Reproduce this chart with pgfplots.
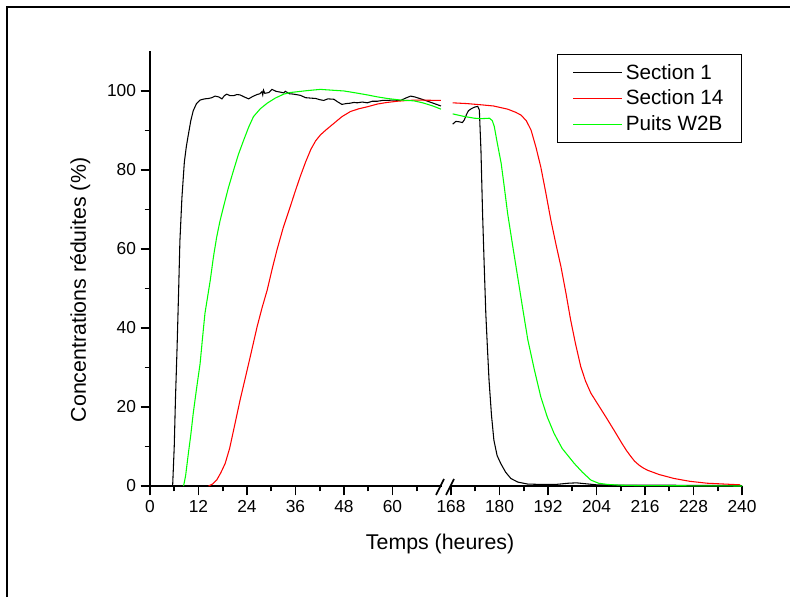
\documentclass[border=0pt]{standalone}
\usepackage{pgfplots}
\pgfplotsset{compat=1.18}
\usepackage{fontspec}
\setmainfont{Liberation Sans}
\begin{document}
\begin{tikzpicture}[x=0.75pt,y=0.75pt]
\path[use as bounding box] (0,0) rectangle (790,597);
\draw[line width=1.6pt] (7,0) -- (7,590) -- (790,590);
\begin{axis}[
  at={(112.5pt,83.25pt)}, anchor=south west,
  scale only axis, width=444pt, height=325.9pt,
  xmin=0, xmax=146.5, ymin=0, ymax=110,
  axis x line=bottom, axis y line=left,
  axis line style={-, line width=1.4pt},
  xtick={0,12,24,36,48,60,74.5,86.5,98.5,110.5,122.5,134.5,146.5},
  xticklabels={0,12,24,36,48,60,168,180,192,204,216,228,240},
  minor xtick={6,18,30,42,54,66,80.5,92.5,104.5,116.5,128.5,140.5},
  ytick={0,20,40,60,80,100}, minor ytick={10,30,50,70,90},
  tick align=outside, major tick length=7pt, minor tick length=4pt,
  every tick/.style={black, line width=1.2pt},
  /pgf/number format/assume math mode=true,
  tick label style={font=\fontsize{13}{15}\selectfont},
  xlabel={Temps (heures)}, ylabel={Concentrations réduites (\%)},
  label style={font=\fontsize{16}{19}\selectfont},
  xlabel style={at={(axis description cs:0.49,-0.134)}, anchor=center},
  ylabel style={at={(axis description cs:-0.118,0.451)}, anchor=center},
  legend style={at={(1,0.995)}, anchor=north east, draw=black, line width=0.75pt,
    font=\fontsize{15.5}{18}\selectfont, inner xsep=11pt, inner ysep=5pt,
    row sep=1.6pt, nodes={inner sep=2.5pt}},
  legend cell align=left,
  legend image code/.code={\draw[#1, line width=0.75pt] (0pt,0pt) -- (36.75pt,0pt);},
  every axis plot/.append style={line width=0.8pt},
]
% Section 1 (left part)
\addplot[black] table {
5.6 0
6.0 10
6.3 22
6.7 35
7.1 50
7.4 62
7.9 73
8.5 82
9.0 86
9.5 89
10.1 92.5
10.7 95
11.5 96.8
12.4 97.7
13.5 98.0
14.5 98.1
15.3 98.3
16.1 98.7
17.0 98.5
17.8 98.0
18.4 98.8
19.0 99.2
19.8 98.8
20.7 98.8
21.5 99.1
22.3 99.0
23.3 98.5
24.4 98.0
25.4 98.6
26.5 99.1
27.2 99.3
27.7 99.8
27.9 99.0
28.1 100.2
28.4 99.4
29.4 99.6
30.2 100.4
31.2 99.9
32.3 99.7
33.1 99.5
33.5 99.9
34.5 99.3
35.5 99.2
37.2 98.9
38.5 98.3
39.7 98.2
41.0 98.1
42.0 97.8
43.0 97.6
44.0 98.0
45.5 97.9
46.5 97.2
47.5 96.6
48.5 96.8
49.5 96.9
50.5 97.1
51.3 97.0
52.5 97.2
53.8 97.0
55.0 97.4
56.3 97.4
57.5 97.6
58.7 97.6
60.0 97.7
62.0 97.6
63.5 98.3
64.5 98.7
65.5 98.5
67.0 98.0
69.0 97.3
72.0 96.2
};
\addlegendentry{Section 1}
% Section 14 (left part)
\addplot[red] table {
14.5 0
15.5 0.5
16.5 1.5
17.5 3.3
18.6 5.7
19.7 9.5
20.7 14.2
21.5 18
22.3 21.8
23.5 27
24.8 32.7
26.5 40.3
27.7 45
29.0 49.6
30.2 54.8
31.4 59.7
33.0 65.5
34.7 70.7
36.0 74.8
37.2 78.4
38.5 82
39.8 85.2
41.0 87.4
42.2 88.9
43.5 90.1
45.5 91.8
47.5 93.5
49.6 94.8
51.7 95.5
53.8 96.0
56.3 96.7
58.7 97.1
61.2 97.4
63.7 97.6
66.0 97.7
72.0 97.6
};
\addlegendentry{Section 14}
% Puits W2B (left part)
\addplot[green] table {
8.3 0
8.8 2.5
9.5 8.3
10.1 13
10.7 18.4
11.5 24.5
12.4 31
13.0 37.5
13.6 43.7
14.9 52
15.7 58
16.5 63
17.3 67
18.2 70.7
19.4 75.5
20.7 80
21.9 84
23.2 87.6
24.4 90.8
25.6 93.5
27.3 95.5
29.0 96.9
31.0 98.2
33.1 99.2
34.7 99.6
36.4 99.8
39.0 100.1
42.2 100.4
45.0 100.2
48.0 100.0
51.0 99.5
53.8 99.0
56.3 98.5
58.7 98.1
62.0 97.7
65.3 97.5
67.5 97.0
70.0 96.2
72.0 95.4
};
\addlegendentry{Puits W2B}
% right part (hours 168-240, shifted onto the broken axis)
\addplot[black, forget plot] table[x expr=\thisrowno{0}-93.5, y index=1] {
168.4 91.6
169.2 92.3
170.0 92.2
170.8 92.0
171.3 92.7
171.8 94.0
172.3 95.0
173.0 95.5
173.8 95.9
174.6 96.1
175.0 95.2
175.4 85
175.8 69
176.2 56
176.6 43.7
177.0 35
177.4 26.8
178.0 18
178.6 11.6
179.4 7.7
180.3 5.7
181.5 3.5
182.8 1.9
184.5 1.0
186.9 0.5
190.0 0.4
194.0 0.4
197.0 0.7
199.0 0.8
201.0 0.6
204.0 0.3
210.0 0.2
220.0 0.2
240.0 0.1
};
\addplot[red, forget plot] table[x expr=\thisrowno{0}-93.5, y index=1] {
168.4 97.0
172.0 96.8
175.4 96.5
178.5 96.2
182.0 95.4
184.0 94.6
185.3 93.9
186.6 92.5
187.8 90.1
189.0 85.8
190.2 80.8
191.4 74.5
192.7 67.3
194.0 61
195.2 55.5
196.4 49
197.6 42
198.8 36
200.1 30.2
201.3 26.5
202.6 23.5
204.2 20.9
206.3 17.5
208.4 14.0
210.4 10.6
211.4 9.0
212.4 7.6
213.4 6.3
214.5 5.3
215.5 4.6
216.6 4.0
219.5 2.9
223.2 1.9
227.0 1.2
231.4 0.7
235.5 0.5
239.6 0.3
};
\addplot[green, forget plot] table[x expr=\thisrowno{0}-93.5, y index=1] {
168.4 94.2
171.0 93.6
173.8 93.1
175.6 93.0
177.5 93.1
178.2 92.5
178.7 91
179.5 86.5
180.4 81.7
181.2 75.5
182.0 69
183.3 60.5
184.6 52.2
185.8 44.5
187.0 37
188.6 29.5
190.2 22.6
191.8 17.5
193.5 13.3
195.5 9.5
198.5 5.7
200.5 3.5
202.6 1.5
204.5 0.7
206.7 0.4
210.0 0.2
215.0 0.1
240.0 0
};
\end{axis}
% axis break marks
\fill[white] (442,106) rectangle (449.5,116);
\draw[line width=1.2pt] (436,102) -- (444,118);
\draw[line width=1.2pt] (446,102) -- (454,118);
\end{tikzpicture}
\end{document}
